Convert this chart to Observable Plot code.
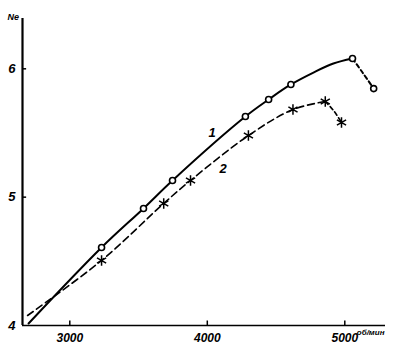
<!DOCTYPE html>
<html><head><meta charset="utf-8">
<script src="https://cdn.jsdelivr.net/npm/d3@7"></script>
<script src="https://cdn.jsdelivr.net/npm/@observablehq/plot@0.6"></script>
<style>body{margin:0;background:#fff}</style>
</head><body><div id="chart"></div>
<script>
// Curve 1 (circles, solid)
const rpm1 = [2700, 3231, 3536, 3747, 4277, 4446, 4608, 4772, 4917, 5056];
const ne1 = [4.016, 4.608, 4.912, 5.130, 5.628, 5.761, 5.878, 5.971, 6.041, 6.080];
const rpm1Tail = [5056, 5129, 5210];
const ne1Tail = [6.080, 5.971, 5.846];
const marks1Rpm = [3231, 3536, 3747, 4277, 4446, 4608, 5056, 5210];
const marks1Ne = [4.608, 4.912, 5.130, 5.628, 5.761, 5.878, 6.080, 5.846];
// Curve 2 (asterisks, dashed)
const rpm2 = [2693, 3231, 3683, 3878, 4299, 4623, 4858];
const ne2 = [4.078, 4.507, 4.951, 5.130, 5.480, 5.683, 5.745];
const rpm2Tail = [4858, 4918, 4976];
const ne2Tail = [5.745, 5.675, 5.582];
const marks2Rpm = [3231, 3683, 3878, 4299, 4623, 4858, 4976];
const marks2Ne = [4.507, 4.951, 5.130, 5.480, 5.683, 5.745, 5.582];
// Curve labels
const curveLabels = ["1", "2"];
const labelRpm = [4035, 4115];
const labelNe = [5.504, 5.224];
// Ticks
const xTicks = [3000, 4000, 5000];
const yTicks = [4, 5, 6];
const xMin = 2656, xMax = 5296, yMin = 4, yMax = 6.392;

const pts = (xs, ys) => xs.map((x, i) => ({x, y: ys[i]}));

const plot = Plot.plot({
  width: 399, height: 351,
  marginLeft: 22, marginRight: 14, marginTop: 18, marginBottom: 26,
  x: {domain: [xMin, xMax], label: null},
  y: {domain: [yMin, yMax], label: null},
  style: {fontFamily: "Liberation Sans", fontStyle: "italic", fontWeight: "bold", fontSize: "12px", background: "#fff", color: "#000"},
  marks: [
    Plot.ruleX([xMin], {strokeWidth: 2.2}),
    Plot.ruleY([yMin], {strokeWidth: 1.6}),
    Plot.ruleX(xTicks, {x: d => d, y1: yMin, y2: yMin + 0.035, strokeWidth: 1.5}),
    Plot.ruleY(yTicks.slice(1), {y: d => d, x1: xMin, x2: xMin + 30, strokeWidth: 1.5}),
    Plot.axisX(xTicks, {tickSize: 0, tickPadding: 8, tickFormat: d => String(d), label: null, fontSize: 12}),
    Plot.axisY(yTicks, {tickSize: 0, tickPadding: 7, tickFormat: d => String(d), label: null, fontSize: 13}),
    Plot.text(["Ne"], {frameAnchor: "top-left", dx: -15, dy: -5, textAnchor: "start", fontSize: 9}),
    Plot.text(["об/мин"], {frameAnchor: "bottom-right", dx: -1, dy: 9, textAnchor: "end", fontSize: 8}),
    Plot.line(pts(rpm1, ne1), {x: "x", y: "y", curve: "catmull-rom", strokeWidth: 2}),
    Plot.line(pts(rpm1Tail, ne1Tail), {x: "x", y: "y", curve: "catmull-rom", strokeWidth: 2, strokeDasharray: "4,3"}),
    Plot.line(pts(rpm2, ne2), {x: "x", y: "y", curve: "catmull-rom", strokeWidth: 1.6, strokeDasharray: "7,4"}),
    Plot.line(pts(rpm2Tail, ne2Tail), {x: "x", y: "y", curve: "catmull-rom", strokeWidth: 1.6, strokeDasharray: "4,3"}),
    Plot.dot(pts(marks1Rpm, marks1Ne), {x: "x", y: "y", r: 3, fill: "#fff", stroke: "#000", strokeWidth: 1.6}),
    Plot.dot(pts(marks2Rpm, marks2Ne), {x: "x", y: "y", symbol: "asterisk", r: 5, stroke: "#000", strokeWidth: 1.5}),
    Plot.text(curveLabels, {x: (d, i) => labelRpm[i], y: (d, i) => labelNe[i], fontSize: 13})
  ]
});
document.getElementById("chart").append(plot);
</script>
</body></html>
